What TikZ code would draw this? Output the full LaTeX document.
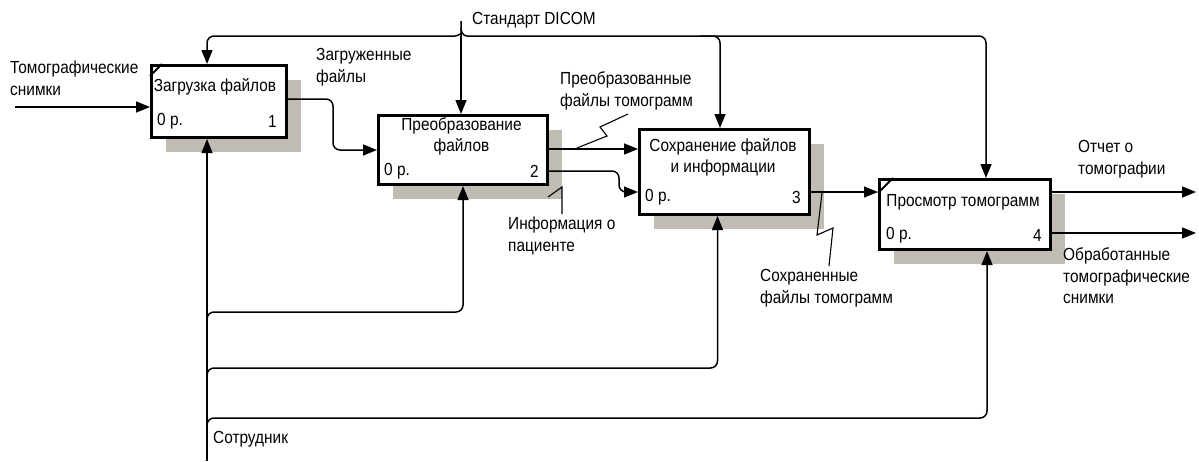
\documentclass[tikz,border=0pt]{standalone}
\usepackage{fontspec}
\setmainfont{Liberation Sans}[FakeStretch=0.88]
\usetikzlibrary{arrows.meta,shadows,calc}
\definecolor{shadowc}{RGB}{192,188,180}
\tikzset{
  box/.style={draw, line width=3pt, fill=white, anchor=north west, inner sep=0pt,
    drop shadow={shadow xshift=14pt, shadow yshift=-14pt, opacity=1, fill=shadowc, draw=none}},
  conn/.style={line width=1.5pt, -{Triangle[length=14pt,width=11pt]}, rounded corners=7pt},
  plain/.style={line width=1.5pt, rounded corners=7pt},
  squig/.style={line width=1.1pt},
  cornermark/.style={line width=2pt},
  lbl/.style={inner sep=0pt, anchor=west, align=left, font=\fontsize{17.5}{21.5}\selectfont},
  txt/.style={inner sep=0pt, font=\fontsize{17.5}{21.5}\selectfont},
}
\begin{document}
\begin{tikzpicture}[x=1pt,y=-1pt]
\useasboundingbox (0,0) rectangle (1199,461);

% boxes
\node[box, minimum width=135pt, minimum height=72pt] (b1) at (150,64) {};
\node[box, minimum width=169pt, minimum height=69pt] (b2) at (377,114) {};
\node[box, minimum width=170pt, minimum height=85pt] (b3) at (638,128) {};
\node[box, minimum width=171pt, minimum height=70pt] (b4) at (878,178) {};

% corner marks
\draw[cornermark] ([yshift=-12pt]b1.north west) -- ([xshift=12pt]b1.north west);
\draw[cornermark] ([yshift=-15pt]b4.north west) -- ([xshift=15pt]b4.north west);

% box texts
\node[txt] (t1) at (215,87) {Загрузка файлов};
\node[txt, anchor=west] (p1) at (157,121) {0 р.};
\node[txt, anchor=east] (n1) at (277,121) {1};

\node[txt, align=center] (t2) at (461.5,136.5) {Преобразование\\файлов};
\node[txt, anchor=west] (p2) at (384,171) {0 р.};
\node[txt, anchor=east] (n2) at (539,171) {2};

\node[txt, align=center] (t3) at (723,157.5) {Сохранение файлов\\и информации};
\node[txt, anchor=west] (p3) at (645,197) {0 р.};
\node[txt, anchor=east] (n3) at (801,197) {3};

\node[txt] (t4) at (963,202) {Просмотр томограмм};
\node[txt, anchor=west] (p4) at (886,235) {0 р.};
\node[txt, anchor=east] (n4) at (1042,235) {4};

% input
\coordinate (in1) at (15,107);
\draw[conn] (in1) -- (in1 -| b1.west);

% b1 -> b2
\coordinate (o1) at ($(b1.north east)+(0,35)$);
\draw[conn] (o1) -- (333,99) -- (333,150) -- ($(b2.north west)+(0,36)$);

% b2 -> b3
\coordinate (o2a) at ($(b2.north east)+(0,35)$);
\draw[conn] (o2a) -- (o2a -| b3.west);
\coordinate (o2b) at ($(b2.north east)+(0,57)$);
\coordinate (i3b) at ($(b3.north west)+(0,64)$);
\draw[conn] (o2b) -- (619,171) -- (619,192) -- (i3b);

% b3 -> b4
\coordinate (o3) at ($(b3.north east)+(0,64)$);
\draw[conn] (o3) -- (o3 -| b4.west);

% b4 outputs
\coordinate (o4a) at ($(b4.north east)+(0,14)$);
\coordinate (o4b) at ($(b4.north east)+(0,55)$);
\coordinate (e4a) at (1196,192);
\coordinate (e4b) at (1196,233);
\draw[conn] (o4a) -- (e4a);
\draw[conn] (o4b) -- (e4b);

% controls
\coordinate (dic) at (461,36);
\coordinate (dictop) at (461,22);
\draw[plain] (dictop) -- (461,28) to[out=-90,in=0] (455,36);
\draw[plain] (461,28) to[out=-90,in=180] (467,36);
\draw[conn] (455,36) -| ($(b1.north west)+(57,0)$);
\draw[conn] (467,36) -| ($(b4.north west)+(108,0)$);
\draw[conn] (700,36) -| ($(b3.north west)+(82,0)$);
\draw[conn] (dic) -- (dic |- b2.north);

% mechanisms
\coordinate (m0) at (207,461);
\draw[conn] (m0) -- (m0 |- b1.south);
\draw[conn] (207,322) -- (207,312) -| (b2.south);
\draw[conn] (207,378) -- (207,368) -| ($(b3.south)+(-7,0)$);
\draw[conn] (207,428) -- (207,418) -| ($(b4.south)+(22,0)$);

% squiggles
\draw[squig] (577,148) -- (607,136) -- (600,127) -- (628,114);
\draw[squig] (548,197) -- (562,187) -- (562,214);
\draw[squig] (822,193) -- (817,235) -- (833,228) -- (829,266);

% labels
\node[lbl] (l1) at (10,78) {Томографические\\снимки};
\node[lbl] (l2) at (316,67) {Загруженные\\файлы};
\node[lbl] (l3) at (472,20) {Стандарт DICOM};
\node[lbl] (l4) at (560,91) {Преобразованные\\файлы томограмм};
\node[lbl] (l5) at (508,236) {Информация о\\пациенте};
\node[lbl] (l6) at (760,288) {Сохраненные\\файлы томограмм};
\node[lbl] (l7) at (1078,159) {Отчет о\\томографии};
\node[lbl] (l8) at (1063,276) {Обработанные\\томографические\\снимки};
\node[lbl] (l9) at (213,439) {Сотрудник};
\end{tikzpicture}
\end{document}
